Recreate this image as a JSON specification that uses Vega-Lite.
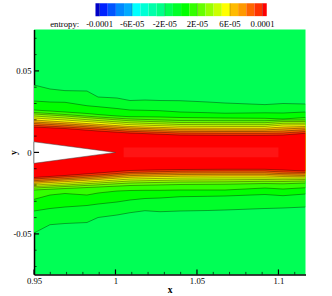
{"$schema":"https://vega.github.io/schema/vega-lite/v6.json","width":271.5,"height":245,"autosize":"none","padding":{"left":34,"top":29.5,"right":26.5,"bottom":21.5},"background":"white","view":{"fill":"#00ff55","stroke":null},
"config":{"font":"Liberation Serif"},
"datasets":{
"field":[
{"k":10,"x":0.95,"u":0.04135,"d":-0.04945},{"k":10,"x":0.9598,"u":0.0389,"d":-0.04436},{"k":10,"x":0.969,"u":0.03791,"d":-0.04362},{"k":10,"x":0.9825,"u":0.03767,"d":-0.04301},{"k":10,"x":0.9893,"u":0.03399,"d":-0.03994},{"k":10,"x":1.0009,"u":0.03337,"d":-0.03841},{"k":10,"x":1.0089,"u":0.03184,"d":-0.03699},{"k":10,"x":1.0181,"u":0.03215,"d":-0.03577},{"k":10,"x":1.0273,"u":0.03184,"d":-0.03638},{"k":10,"x":1.0396,"u":0.03172,"d":-0.03595},{"k":10,"x":1.0567,"u":0.03092,"d":-0.03564},{"k":10,"x":1.0672,"u":0.03031,"d":-0.03534},{"k":10,"x":1.0917,"u":0.02933,"d":-0.03442},{"k":10,"x":1.1028,"u":0.03,"d":-0.03411},{"k":10,"x":1.1166,"u":0.02969,"d":-0.0335},
{"k":11,"x":0.95,"u":0.03153,"d":-0.03595},{"k":11,"x":0.9598,"u":0.03092,"d":-0.03442},{"k":11,"x":0.969,"u":0.03074,"d":-0.0335},{"k":11,"x":0.9825,"u":0.02865,"d":-0.03258},{"k":11,"x":0.9893,"u":0.02804,"d":-0.03166},{"k":11,"x":1.0009,"u":0.02693,"d":-0.03043},{"k":11,"x":1.0089,"u":0.02601,"d":-0.0292},{"k":11,"x":1.0181,"u":0.02583,"d":-0.02828},{"k":11,"x":1.0273,"u":0.02558,"d":-0.02798},{"k":11,"x":1.0396,"u":0.02479,"d":-0.02718},{"k":11,"x":1.0567,"u":0.02436,"d":-0.02693},{"k":11,"x":1.0672,"u":0.02405,"d":-0.02675},{"k":11,"x":1.0917,"u":0.02429,"d":-0.02583},{"k":11,"x":1.1028,"u":0.02417,"d":-0.02656},{"k":11,"x":1.1166,"u":0.02479,"d":-0.02552},
{"k":12,"x":0.95,"u":0.02601,"d":-0.02877},{"k":12,"x":0.9598,"u":0.0254,"d":-0.02614},{"k":12,"x":0.969,"u":0.02479,"d":-0.02521},{"k":12,"x":0.9825,"u":0.02387,"d":-0.02614},{"k":12,"x":0.9893,"u":0.02325,"d":-0.02491},{"k":12,"x":1.0009,"u":0.02233,"d":-0.02368},{"k":12,"x":1.0089,"u":0.0219,"d":-0.02337},{"k":12,"x":1.0181,"u":0.02184,"d":-0.02325},{"k":12,"x":1.0273,"u":0.02172,"d":-0.02325},{"k":12,"x":1.0396,"u":0.02141,"d":-0.02307},{"k":12,"x":1.0567,"u":0.02123,"d":-0.02307},{"k":12,"x":1.0672,"u":0.0211,"d":-0.02307},{"k":12,"x":1.0917,"u":0.02092,"d":-0.02184},{"k":12,"x":1.1028,"u":0.02049,"d":-0.02245},{"k":12,"x":1.1166,"u":0.02141,"d":-0.02166},
{"k":13,"x":0.95,"u":0.02448,"d":-0.02307},{"k":13,"x":0.969,"u":0.02325,"d":-0.02215},{"k":13,"x":0.9893,"u":0.02172,"d":-0.02123},{"k":13,"x":1.0089,"u":0.02049,"d":-0.02031},{"k":13,"x":1.0396,"u":0.01957,"d":-0.01969},{"k":13,"x":1.0672,"u":0.01945,"d":-0.01951},{"k":13,"x":1.0917,"u":0.01945,"d":-0.01908},{"k":13,"x":1.1028,"u":0.01988,"d":-0.01926},{"k":13,"x":1.1166,"u":0.01988,"d":-0.01877},
{"k":14,"x":0.95,"u":0.02356,"d":-0.02184},{"k":14,"x":0.969,"u":0.02233,"d":-0.02092},{"k":14,"x":0.9893,"u":0.0208,"d":-0.01988},{"k":14,"x":1.0089,"u":0.01939,"d":-0.01877},{"k":14,"x":1.0396,"u":0.01834,"d":-0.01816},{"k":14,"x":1.0672,"u":0.01822,"d":-0.01804},{"k":14,"x":1.0917,"u":0.01822,"d":-0.01773},{"k":14,"x":1.1028,"u":0.01896,"d":-0.01785},{"k":14,"x":1.1166,"u":0.01896,"d":-0.01755},
{"k":15,"x":0.95,"u":0.02233,"d":-0.02092},{"k":15,"x":0.969,"u":0.0211,"d":-0.02},{"k":15,"x":0.9893,"u":0.01957,"d":-0.01877},{"k":15,"x":1.0089,"u":0.01816,"d":-0.01755},{"k":15,"x":1.0396,"u":0.01712,"d":-0.01693},{"k":15,"x":1.0672,"u":0.01699,"d":-0.01681},{"k":15,"x":1.0917,"u":0.01699,"d":-0.01663},{"k":15,"x":1.1028,"u":0.01785,"d":-0.01675},{"k":15,"x":1.1166,"u":0.01791,"d":-0.01663},
{"k":16,"x":0.95,"u":0.0211,"d":-0.02},{"k":16,"x":0.969,"u":0.01988,"d":-0.01896},{"k":16,"x":0.9893,"u":0.01847,"d":-0.01773},{"k":16,"x":1.0089,"u":0.01699,"d":-0.01632},{"k":16,"x":1.0396,"u":0.01601,"d":-0.01571},{"k":16,"x":1.0672,"u":0.01589,"d":-0.01558},{"k":16,"x":1.0917,"u":0.01589,"d":-0.01558},{"k":16,"x":1.1028,"u":0.01681,"d":-0.01571},{"k":16,"x":1.1166,"u":0.01693,"d":-0.01571},
{"k":17,"x":0.95,"u":0.01988,"d":-0.01908},{"k":17,"x":0.969,"u":0.01865,"d":-0.01798},{"k":17,"x":0.9893,"u":0.01724,"d":-0.01663},{"k":17,"x":1.0089,"u":0.01589,"d":-0.01528},{"k":17,"x":1.0396,"u":0.01497,"d":-0.0146},{"k":17,"x":1.0672,"u":0.01485,"d":-0.01448},{"k":17,"x":1.0917,"u":0.01485,"d":-0.01448},{"k":17,"x":1.1028,"u":0.01558,"d":-0.01479},{"k":17,"x":1.1166,"u":0.01589,"d":-0.01497},
{"k":18,"x":0.95,"u":0.01865,"d":-0.01816},{"k":18,"x":0.969,"u":0.01755,"d":-0.01693},{"k":18,"x":0.9893,"u":0.0162,"d":-0.01571},{"k":18,"x":1.0089,"u":0.01497,"d":-0.01423},{"k":18,"x":1.0396,"u":0.01393,"d":-0.01356},{"k":18,"x":1.0672,"u":0.0138,"d":-0.01344},{"k":18,"x":1.0917,"u":0.0138,"d":-0.01344},{"k":18,"x":1.1028,"u":0.01436,"d":-0.01387},{"k":18,"x":1.1166,"u":0.01497,"d":-0.01417},
{"k":19,"x":0.95,"u":0.01773,"d":-0.01736},{"k":19,"x":0.969,"u":0.01663,"d":-0.01614},{"k":19,"x":0.9893,"u":0.01528,"d":-0.01479},{"k":19,"x":1.0089,"u":0.01393,"d":-0.01325},{"k":19,"x":1.0396,"u":0.01294,"d":-0.01264},{"k":19,"x":1.0672,"u":0.01282,"d":-0.01252},{"k":19,"x":1.0917,"u":0.01282,"d":-0.01252},{"k":19,"x":1.1028,"u":0.01313,"d":-0.01307},{"k":19,"x":1.1166,"u":0.01393,"d":-0.01325},
{"k":20,"x":0.95,"u":0.01663,"d":-0.01632},{"k":20,"x":0.969,"u":0.01558,"d":-0.01509},{"k":20,"x":0.9893,"u":0.01436,"d":-0.01387},{"k":20,"x":1.0089,"u":0.01294,"d":-0.01233},{"k":20,"x":1.0396,"u":0.0119,"d":-0.01153},{"k":20,"x":1.0672,"u":0.01172,"d":-0.01141},{"k":20,"x":1.0917,"u":0.01172,"d":-0.01141},{"k":20,"x":1.1028,"u":0.0119,"d":-0.01202},{"k":20,"x":1.1166,"u":0.01282,"d":-0.01233},
{"k":21,"x":0.95,"u":0.01558,"d":-0.0154},{"k":21,"x":0.969,"u":0.01466,"d":-0.01417},{"k":21,"x":0.9893,"u":0.01313,"d":-0.01264},{"k":21,"x":1.0089,"u":0.0119,"d":-0.0111},{"k":21,"x":1.0396,"u":0.01067,"d":-0.01049},{"k":21,"x":1.0672,"u":0.01049,"d":-0.01037},{"k":21,"x":1.0917,"u":0.01049,"d":-0.01037},{"k":21,"x":1.1028,"u":0.01067,"d":-0.0108},{"k":21,"x":1.1166,"u":0.01172,"d":-0.01141}
],
"stripe":[{"x":1.005,"u":0.003,"d":-0.003},{"x":1.1,"u":0.003,"d":-0.003}],
"wedge":[{"x":0.95,"u":0.0065,"d":-0.0067},{"x":1.0,"u":0,"d":0}],
"cells":[
{"k":0,"a":0.98773,"b":0.99025},{"k":1,"a":0.99025,"b":0.99525},{"k":2,"a":0.99525,"b":1.00025},{"k":3,"a":1.00025,"b":1.00525},{"k":4,"a":1.00525,"b":1.01025},{"k":5,"a":1.01025,"b":1.01525},{"k":6,"a":1.01525,"b":1.02025},{"k":7,"a":1.02025,"b":1.02525},{"k":8,"a":1.02525,"b":1.03025},{"k":9,"a":1.03025,"b":1.03525},{"k":10,"a":1.03525,"b":1.04025},{"k":11,"a":1.04025,"b":1.04525},{"k":12,"a":1.04525,"b":1.05025},{"k":13,"a":1.05025,"b":1.05525},{"k":14,"a":1.05525,"b":1.06025},{"k":15,"a":1.06025,"b":1.06525},{"k":16,"a":1.06525,"b":1.07025},{"k":17,"a":1.07025,"b":1.07525},{"k":18,"a":1.07525,"b":1.08025},{"k":19,"a":1.08025,"b":1.08525},{"k":20,"a":1.08525,"b":1.09025},{"k":21,"a":1.09025,"b":1.09282}],
"barlabels":[{"x":0.99025,"t":"-0.0001"},{"x":1.01025,"t":"-6E-05"},{"x":1.03025,"t":"-2E-05"},{"x":1.05025,"t":"2E-05"},{"x":1.07025,"t":"6E-05"},{"x":1.09025,"t":"0.0001"}]
},
"layer":[
{"data":{"name":"field"},"mark":{"type":"area","clip":true},"encoding":{
"x":{"field":"x","type":"quantitative","scale":{"domain":[0.95,1.1166],"nice":false,"zero":false},"axis":{"values":[0.95,1,1.05,1.1],"labelExpr":"datum.value","title":"x","titleFont":"Liberation Serif","titleFontWeight":"bold","titleFontSize":9.5,"titleColor":"#000","titleX":135.7,"titleY":18,"titleBaseline":"alphabetic","labelFont":"Liberation Serif","labelFontSize":8.7,"labelColor":"#000","labelPadding":2,"ticks":false,"grid":false,"domainColor":"#000","domainWidth":1.5,"labelFlush":false,"labelOverlap":false}},
"y":{"field":"u","type":"quantitative","scale":{"domain":[-0.0749,0.0754],"nice":false,"zero":false},"axis":{"values":[-0.05,0,0.05],"labelExpr":"datum.value","title":"y","titleFont":"Liberation Serif","titleFontWeight":"bold","titleFontSize":9.5,"titleColor":"#000","titleX":-18,"titleY":122.5,"titleBaseline":"alphabetic","labelFont":"Liberation Serif","labelFontSize":8.7,"labelColor":"#000","labelPadding":3,"ticks":false,"grid":false,"domainColor":"#000","domainWidth":1.5,"labelOverlap":false}},
"y2":{"field":"d"},
"color":{"field":"k","type":"ordinal","legend":null,"scale":{"domain":[0,1,2,3,4,5,6,7,8,9,10,11,12,13,14,15,16,17,18,19,20,21],"range":["#0000c8","#0022ff","#0055ff","#0088ff","#00aaff","#00ffff","#00ffd5","#00ffaa","#00ff88","#00ff55","#00ff2a","#00ff00","#33ff00","#66ff00","#99ff00","#ccff00","#ffff00","#ffbb00","#ff9900","#ff6600","#ff3300","#ff0000"]}}
}},
{"data":{"name":"stripe"},"mark":{"type":"area","color":"#ff1414"},"encoding":{"x":{"field":"x","type":"quantitative"},"y":{"field":"u","type":"quantitative"},"y2":{"field":"d"}}},
{"data":{"name":"field"},"mark":{"type":"line","color":"#000","strokeWidth":0.6,"opacity":0.6,"clip":true},"encoding":{"x":{"field":"x","type":"quantitative"},"y":{"field":"u","type":"quantitative"},"detail":{"field":"k"}}},
{"data":{"name":"field"},"mark":{"type":"line","color":"#000","strokeWidth":0.6,"opacity":0.6,"clip":true},"encoding":{"x":{"field":"x","type":"quantitative"},"y":{"field":"d","type":"quantitative"},"detail":{"field":"k"}}},
{"data":{"name":"wedge"},"mark":{"type":"area","color":"#fff","stroke":"#444","strokeWidth":0.5},"encoding":{"x":{"field":"x","type":"quantitative"},"y":{"field":"u","type":"quantitative"},"y2":{"field":"d"}}},
{"data":{"values":[{"v":0.95},{"v":1},{"v":1.05},{"v":1.1}]},"mark":{"type":"rule","color":"#000","strokeWidth":1.2},"encoding":{"x":{"field":"v","type":"quantitative"},"y":{"datum":-0.0749},"y2":{"datum":-0.0718}}},
{"data":{"values":[{"v":0.96},{"v":0.97},{"v":0.98},{"v":0.99},{"v":1.01},{"v":1.02},{"v":1.03},{"v":1.04},{"v":1.06},{"v":1.07},{"v":1.08},{"v":1.09},{"v":1.11}]},"mark":{"type":"rule","color":"#000","strokeWidth":0.7},"encoding":{"x":{"field":"v","type":"quantitative"},"y":{"datum":-0.0749},"y2":{"datum":-0.0733}}},
{"data":{"values":[{"v":-0.05},{"v":0},{"v":0.05}]},"mark":{"type":"rule","color":"#000","strokeWidth":1.2},"encoding":{"y":{"field":"v","type":"quantitative"},"x":{"datum":0.95},"x2":{"datum":0.9531}}},
{"data":{"values":[{"v":-0.07},{"v":-0.06},{"v":-0.04},{"v":-0.03},{"v":-0.02},{"v":-0.01},{"v":0.01},{"v":0.02},{"v":0.03},{"v":0.04},{"v":0.06},{"v":0.07}]},"mark":{"type":"rule","color":"#000","strokeWidth":0.7},"encoding":{"y":{"field":"v","type":"quantitative"},"x":{"datum":0.95},"x2":{"datum":0.9516}}},
{"data":{"name":"cells"},"mark":{"type":"rect"},"encoding":{"x":{"field":"a","type":"quantitative"},"x2":{"field":"b"},"y":{"datum":0.0915},"y2":{"datum":0.0836},"color":{"field":"k","type":"ordinal","legend":null}}},
{"data":{"name":"barlabels"},"mark":{"type":"rule","color":"#000","strokeWidth":0.6,"opacity":0.35},"encoding":{"x":{"field":"x","type":"quantitative"},"y":{"datum":0.0915},"y2":{"datum":0.0836}}},
{"data":{"name":"barlabels"},"mark":{"type":"text","font":"Liberation Serif","fontSize":8.7,"color":"#000"},"encoding":{"x":{"field":"x","type":"quantitative"},"y":{"datum":0.0788},"text":{"field":"t"}}},
{"data":{"values":[{"x":0.9777,"t":"entropy:"}]},"mark":{"type":"text","font":"Liberation Serif","fontSize":8.7,"color":"#000","align":"right"},"encoding":{"x":{"field":"x","type":"quantitative"},"y":{"datum":0.0788},"text":{"field":"t"}}}
]}
